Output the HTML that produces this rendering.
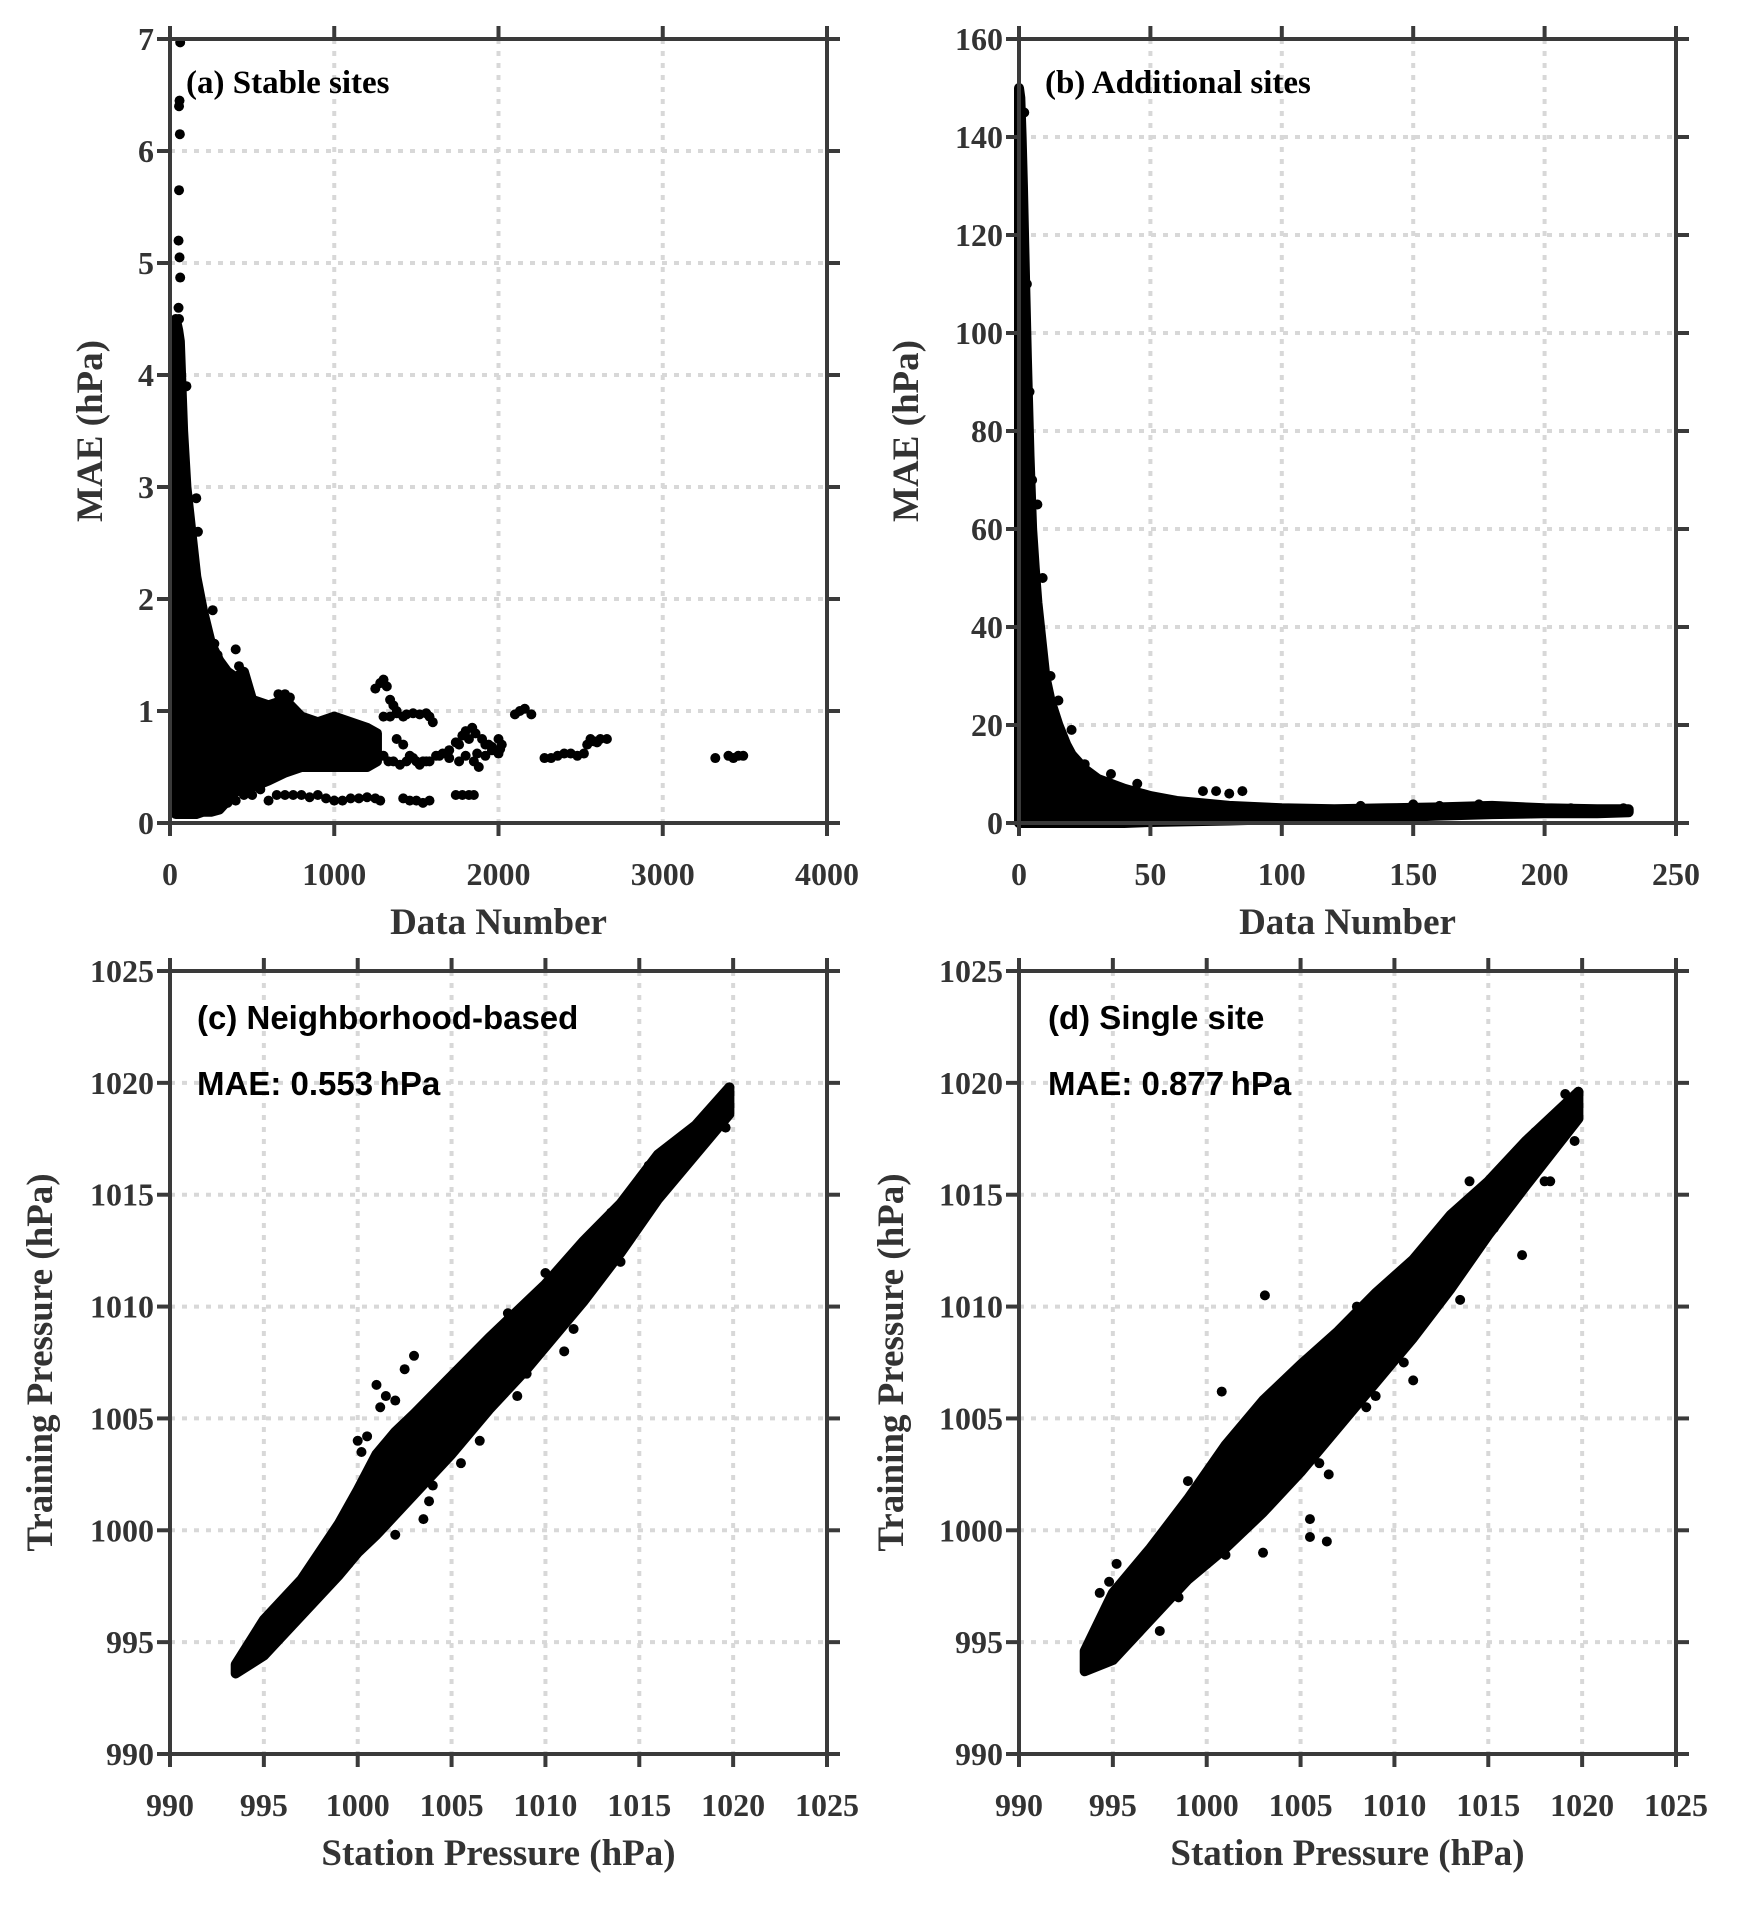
<!DOCTYPE html>
<html><head><meta charset="utf-8">
<style>
html,body{margin:0;padding:0;background:#fff;}
svg{display:block;}
.tick{font-family:"Liberation Serif",serif;font-weight:bold;font-size:32px;fill:#333;}
.title{font-family:"Liberation Serif",serif;font-weight:bold;font-size:37px;fill:#333;}
.plab{font-family:"Liberation Serif",serif;font-weight:bold;font-size:33px;fill:#000;}
.slab{font-family:"Liberation Sans",sans-serif;font-weight:bold;font-size:33px;fill:#000;}
</style></head>
<body>
<svg id="chart" width="1744" height="1909" viewBox="0 0 1744 1909" xmlns="http://www.w3.org/2000/svg"></svg>
<script>
// ---- Panel (a) data ----
const aXTicks=[0,1000,2000,3000,4000];
const aYTicks=[0,1,2,3,4,5,6,7];
const aCoreX=[35,50,60,80,100,130,160,200,250,300,350,400,450,500,600,700,800,900,1000,1100,1200,1260];
const aCoreHi=[4.5,4.4,4.3,3.5,3.0,2.6,2.2,1.9,1.6,1.45,1.35,1.3,1.35,1.1,1.05,1.1,0.95,0.9,0.95,0.9,0.85,0.8];
const aCoreLo=[0.08,0.08,0.08,0.08,0.08,0.08,0.08,0.1,0.1,0.12,0.2,0.28,0.3,0.32,0.38,0.45,0.5,0.5,0.5,0.5,0.5,0.55];
const aPtX=[62,58,55,60,52,55,58,62,52,60,55,100,160,170,260,270,290,400,420,460,660,700,730,1250,1280,1300,1320,1340,1360,1380,1300,1340,1380,1420,1440,1480,1520,1560,1580,1600,1380,1420,1460,1500,1540,1580,1640,1700,1740,1780,1800,1840,1860,1900,1940,1980,2000,2020,1760,1800,1850,1880,1920,1960,2000,2100,2130,2160,2200,2280,2320,2360,2400,2440,2480,2520,2540,2560,2580,2600,2620,2660,3320,3400,3430,3460,3490,400,450,500,550,600,650,700,750,800,850,900,950,1000,1050,1100,1150,1200,1250,1280,1420,1460,1500,1540,1580,1740,1780,1820,1850,200,250,300,350,1300,1330,1360,1400,1440,1480,1520,1560,1620,1660,1700,1760,1820,1870,1920,1960,2010];
const aPtY=[6.97,6.45,6.4,6.15,5.2,5.65,5.05,4.87,4.6,3.9,4.5,3.9,2.9,2.6,1.9,1.6,1.5,1.55,1.4,1.2,1.15,1.15,1.12,1.2,1.25,1.28,1.22,1.1,1.05,1.0,0.95,0.95,0.98,0.95,0.97,0.98,0.97,0.98,0.95,0.9,0.75,0.7,0.6,0.55,0.55,0.55,0.6,0.65,0.72,0.78,0.82,0.85,0.8,0.75,0.7,0.65,0.75,0.7,0.55,0.6,0.55,0.5,0.6,0.65,0.62,0.97,1.0,1.02,0.97,0.58,0.58,0.6,0.62,0.62,0.6,0.62,0.7,0.75,0.73,0.72,0.75,0.75,0.58,0.6,0.58,0.6,0.6,0.2,0.25,0.25,0.3,0.2,0.25,0.25,0.25,0.25,0.23,0.25,0.22,0.2,0.2,0.22,0.22,0.23,0.22,0.2,0.22,0.2,0.2,0.18,0.2,0.25,0.25,0.25,0.25,0.15,0.2,0.15,0.18,0.6,0.55,0.55,0.52,0.55,0.58,0.52,0.55,0.6,0.62,0.58,0.7,0.75,0.62,0.7,0.68,0.66];
// ---- Panel (b) data ----
const bXTicks=[0,50,100,150,200,250];
const bYTicks=[0,20,40,60,80,100,120,140,160];
const bCoreX=[0,0.5,1,1.5,2,3,4,5,6,7,8,10,12,15,18,20,25,30,40,50,60,70,80,100,120,140,160,180,200,220,232];
const bCoreHi=[150,148,140,130,118,95,75,60,52,45,40,30,25,20,16,14,11,9,7,5.5,4.5,4,3.5,3,2.8,3,3.2,3.5,3,2.8,2.8];
const bCoreLo=[0,0,0,0,0,0,0,0,0,0,0,0,0,0,0,0,0,0,0,0.2,0.3,0.4,0.5,0.8,1,1.2,1.5,1.8,2,2,2.2];
const bPtX=[2,3,4,5,7,9,12,15,20,25,35,45,70,75,80,85,130,150,160,175,185,200,210,215,230];
const bPtY=[145,110,88,70,65,50,30,25,19,12,10,8,6.5,6.5,6,6.5,3.5,3.8,3.5,3.8,3.2,2.8,3,2.8,3];
// ---- Panel (c) data ----
const pTicks=[990,995,1000,1005,1010,1015,1020,1025];
const cCoreX=[993.5,995,997,999,1000,1001,1002,1003,1005,1007,1009,1010,1012,1014,1016,1018,1019.8];
const cCoreLo=[993.6,994.4,996.2,998,999,999.8,1000.7,1001.6,1003.4,1005.4,1007.2,1008.2,1010.2,1012.4,1014.8,1016.8,1018.6];
const cCoreHi=[994,996,997.8,1000.3,1001.8,1003.4,1004.4,1005.2,1006.9,1008.6,1010.2,1011,1012.9,1014.6,1016.8,1018.1,1019.8];
const cPtX=[1000,1000.5,1001,1002.5,1003,1001.2,1000.2,1004.5,1006,1008,1010,1012,1013.5,1015.5,1017.5,1019.5,1011,1009,1007,1005.5,1003.8,1002,1019.8,1019.6,1018.5,1014,1010.5,999.5,1001.5,1002,1003.5,1004,1006.5,1008.5,1011.5,1012.5];
const cPtY=[1004,1004.2,1006.5,1007.2,1007.8,1005.5,1003.5,1006,1007,1009.7,1011.5,1012.5,1014.2,1016.3,1017.5,1019.3,1008,1007,1006,1003,1001.3,999.8,1019.8,1018,1017.7,1012,1010.5,998.5,1006,1005.8,1000.5,1002,1004,1006,1009,1013];
// ---- Panel (d) data ----
const dCoreX=[993.5,995,997,999,1001,1003,1005,1007,1009,1011,1013,1015,1017,1019.8];
const dCoreLo=[993.7,994.2,996,997.8,999.2,1000.8,1002.6,1004.6,1006.6,1008.6,1010.8,1013.2,1015.4,1018.4];
const dCoreHi=[994.6,997.2,999.2,1001.4,1003.8,1005.8,1007.4,1008.9,1010.6,1012.1,1014.1,1015.6,1017.4,1019.6];
const dPtX=[1003.1,1005.5,1006.4,1016.8,1015.3,1018,1018.3,1019.6,1019.8,1019.1,1016,1014,1012,1010,1008,1000.8,999,998,996,995.2,994.8,994.3,997.5,1001,1003,1005.5,1006.5,1009.5,1011,1013.5,1017.5,995,993.6,1002,1004,1006,1008.5,1010.5,1012.5,998.5,1000,1007.5,1009];
const dPtY=[1010.5,999.7,999.5,1012.3,1013.5,1015.6,1015.6,1017.4,1019.6,1019.5,1016.3,1015.6,1010.3,1008.5,1010,1006.2,1002.2,999.7,996.5,998.5,997.7,997.2,995.5,998.9,999,1000.5,1002.5,1008,1006.7,1010.3,1017.8,994.3,994.2,1004.5,1006.5,1003,1005.5,1007.5,1011,997,998.5,1009,1006];

const NS='http://www.w3.org/2000/svg';
const svg=document.getElementById('chart');
function mk(tag,attrs,parent){const e=document.createElementNS(NS,tag);for(const k in attrs)e.setAttribute(k,attrs[k]);(parent||svg).appendChild(e);return e;}

function panel(o){
  const g=mk('g',{});
  
  
  const sx=v=>o.x0+(v-o.xmin)/(o.xmax-o.xmin)*(o.x1-o.x0);
  const sy=v=>o.y1-(v-o.ymin)/(o.ymax-o.ymin)*(o.y1-o.y0);
  o.xt.forEach(t=>{if(t>o.xmin&&t<o.xmax){const l=mk('line',{x1:sx(t),x2:sx(t),y1:o.y0,y2:o.y1,stroke:'#d8d8d8','stroke-width':4,'stroke-dasharray':'5 7'},g);}});
  o.yt.forEach(t=>{if(t>o.ymin&&t<o.ymax){const l=mk('line',{x1:o.x0,x2:o.x1,y1:sy(t),y2:sy(t),stroke:'#d8d8d8','stroke-width':4,'stroke-dasharray':'5 7'},g);}});
  let d='';
  o.cx.forEach((x,i)=>{d+=(i?'L':'M')+sx(x)+','+sy(o.chi[i]);});
  for(let i=o.cx.length-1;i>=0;i--)d+='L'+sx(o.cx[i])+','+sy(o.clo[i]);
  const core=mk('path',{d:d+'Z',fill:'#000',stroke:'#000','stroke-width':10,'stroke-linejoin':'round'},g);
  
  
  o.px.forEach((x,i)=>{const c=mk('circle',{cx:sx(x),cy:sy(o.py[i]),r:5,fill:'#000'},g);});
  const f=mk('rect',{x:o.x0,y:o.y0,width:o.x1-o.x0,height:o.y1-o.y0,fill:'none',stroke:'#3a3a3a','stroke-width':4},g);
  
  o.xt.forEach(t=>{
    mk('line',{x1:sx(t),x2:sx(t),y1:o.y1,y2:o.y1+13,stroke:'#3a3a3a','stroke-width':4},g);
    mk('line',{x1:sx(t),x2:sx(t),y1:o.y0,y2:o.y0-13,stroke:'#3a3a3a','stroke-width':4},g);
    const tx=mk('text',{x:sx(t),y:o.y1+62,'text-anchor':'middle',class:'tick'},g);tx.textContent=t;
    
  });
  o.yt.forEach(t=>{
    mk('line',{x1:o.x0,x2:o.x0-13,y1:sy(t),y2:sy(t),stroke:'#3a3a3a','stroke-width':4},g);
    mk('line',{x1:o.x1,x2:o.x1+13,y1:sy(t),y2:sy(t),stroke:'#3a3a3a','stroke-width':4},g);
    const tx=mk('text',{x:o.x0-16,y:sy(t)+11,'text-anchor':'end',class:'tick'},g);tx.textContent=t;
    
  });
  const xt=mk('text',{x:(o.x0+o.x1)/2,y:o.y1+111,'text-anchor':'middle',class:'title'},g);xt.textContent=o.xlab;
  
  const yc=(o.y0+o.y1)/2;
  const yt=mk('text',{x:o.ytx,y:yc,'text-anchor':'middle',class:'title',transform:'rotate(-90 '+o.ytx+' '+yc+')'},g);yt.textContent=o.ylab;
  
  o.labels.forEach(L=>{const t=mk('text',{x:L[0],y:L[1],class:L[3]},g);t.textContent=L[2];});
}

panel({name:'panel-a-stable-sites',x0:170,x1:827,y0:39,y1:823,xmin:0,xmax:4000,ymin:0,ymax:7,xt:aXTicks,yt:aYTicks,
  cx:aCoreX,chi:aCoreHi,clo:aCoreLo,px:aPtX,py:aPtY,xlab:'Data Number',ylab:'MAE (hPa)',ytx:102,
  labels:[[186,93,'(a) Stable sites','plab']]});
panel({name:'panel-b-additional-sites',x0:1019,x1:1676,y0:39,y1:823,xmin:0,xmax:250,ymin:0,ymax:160,xt:bXTicks,yt:bYTicks,
  cx:bCoreX,chi:bCoreHi,clo:bCoreLo,px:bPtX,py:bPtY,xlab:'Data Number',ylab:'MAE (hPa)',ytx:918,
  labels:[[1045,93,'(b) Additional sites','plab']]});
panel({name:'panel-c-neighborhood',x0:170,x1:827,y0:971,y1:1754,xmin:990,xmax:1025,ymin:990,ymax:1025,xt:pTicks,yt:pTicks,
  cx:cCoreX,chi:cCoreHi,clo:cCoreLo,px:cPtX,py:cPtY,xlab:'Station Pressure (hPa)',ylab:'Training  Pressure (hPa)',ytx:52,
  labels:[[197,1029,'(c) Neighborhood-based','slab'],[197,1095,'MAE: 0.553\u2009hPa','slab']]});
panel({name:'panel-d-single-site',x0:1019,x1:1676,y0:971,y1:1754,xmin:990,xmax:1025,ymin:990,ymax:1025,xt:pTicks,yt:pTicks,
  cx:dCoreX,chi:dCoreHi,clo:dCoreLo,px:dPtX,py:dPtY,xlab:'Station Pressure (hPa)',ylab:'Training Pressure (hPa)',ytx:903,
  labels:[[1048,1029,'(d) Single site','slab'],[1048,1095,'MAE: 0.877\u2009hPa','slab']]});
</script>
</body></html>
